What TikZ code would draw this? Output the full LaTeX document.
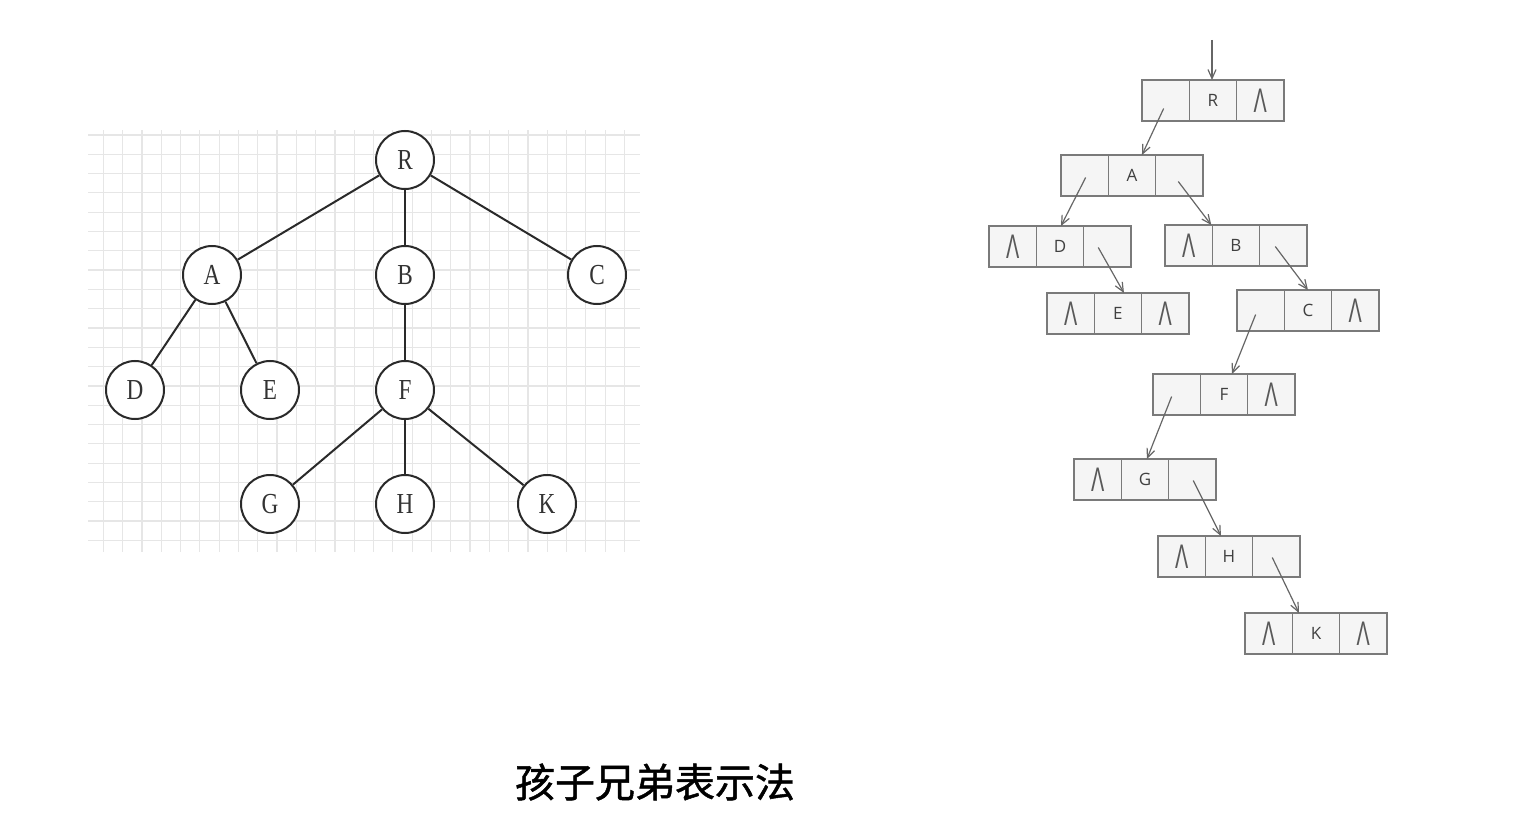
\documentclass[tikz,border=0pt]{standalone}
\usepackage{fontspec}
\usetikzlibrary{arrows.meta,calc}
\newfontfamily\cjk{Noto Sans CJK SC}[FakeBold=1.2]
\newfontfamily\boxfont{Open Sans}
\newfontfamily\treefont{Liberation Serif}
\newfontfamily\lamfont{Liberation Sans}
\definecolor{gridc}{HTML}{E6E6E6}
\definecolor{edgec}{HTML}{2A2A2A}
\definecolor{cellborder}{HTML}{7A7A7A}
\definecolor{cellfill}{HTML}{F5F5F5}
\definecolor{ptrc}{HTML}{666666}
\tikzset{
  tnode/.style={circle,draw=edgec,line width=2pt,minimum size=58pt,inner sep=0pt,fill=white,
    font=\treefont\fontsize{29}{29}\selectfont,text=black!80},
  tedge/.style={draw=edgec,line width=2pt},
  cell/.style={rectangle,draw=cellborder,line width=1.5pt,fill=cellfill,minimum width=47.3pt,
    minimum height=41pt,inner sep=0pt,outer sep=0pt,anchor=north west,font=\boxfont\fontsize{17}{17}\selectfont,text=black!75},
  ptr/.style={draw=ptrc,line width=1.2pt,-{Straight Barb[length=9pt,width=8pt,line width=1.2pt]}},
}
\newcommand{\lam}{\textcolor{black!65}{\scalebox{0.9}[1.55]{\lamfont\fontsize{22}{22}\selectfont Λ}}}
\newcommand{\tl}[1]{\scalebox{0.8}[1]{#1}}
\newcommand{\listbox}[6]{%
  \node[cell] (#1-l) at (#2,#3) {#4};
  \node[cell] (#1-d) at (#1-l.north east) {#5};
  \node[cell] (#1-r) at (#1-d.north east) {#6};
}
\begin{document}
\begin{tikzpicture}[x=1pt,y=-1pt]
\useasboundingbox (0,0) rectangle (1536,834);
% grid
\foreach \k in {0,...,27} \draw[gridc,line width=1.2pt] ({103.3+\k*19.3},130) -- ({103.3+\k*19.3},552);
\foreach \k in {0,...,21} \draw[gridc,line width=1.2pt] (88,{135+\k*19.3}) -- (640,{135+\k*19.3});
% tree
\node[tnode] (R) at (405,160) {\tl{R}};
\node[tnode] (A) at (212,275) {\tl{A}};
\node[tnode] (B) at (405,275) {\tl{B}};
\node[tnode] (C) at (597,275) {\tl{C}};
\node[tnode] (D) at (135,390) {\tl{D}};
\node[tnode] (E) at (270,390) {\tl{E}};
\node[tnode] (F) at (405,390) {\tl{F}};
\node[tnode] (G) at (270,504) {\tl{G}};
\node[tnode] (H) at (405,504) {\tl{H}};
\node[tnode] (K) at (547,504) {\tl{K}};
\draw[tedge] (R) -- (A);
\draw[tedge] (R) -- (B);
\draw[tedge] (R) -- (C);
\draw[tedge] (A) -- (D);
\draw[tedge] (A) -- (E);
\draw[tedge] (B) -- (F);
\draw[tedge] (F) -- (G);
\draw[tedge] (F) -- (H);
\draw[tedge] (F) -- (K);
% child-sibling lists
\listbox{r}{1142}{80}{}{R}{\lam}
\listbox{a}{1061}{155}{}{A}{}
\listbox{d}{989}{226}{\lam}{D}{}
\listbox{b}{1165}{225}{\lam}{B}{}
\listbox{e}{1047}{293}{\lam}{E}{\lam}
\listbox{c}{1237}{290}{}{C}{\lam}
\listbox{f}{1153}{374}{}{F}{\lam}
\listbox{g}{1074}{459}{\lam}{G}{}
\listbox{h}{1158}{536}{\lam}{H}{}
\listbox{k}{1245}{613}{\lam}{K}{\lam}
\coordinate (top) at (1212,40);
\draw[ptr] (top) -- (top |- r-d.north);
\draw[ptr] ([shift={(-2,8)}]r-l.center) -- ([xshift=10]a-d.north);
\draw[ptr] ([shift={(1,2)}]a-l.center) -- ([xshift=1]d-d.north);
\draw[ptr] ([shift={(-1,6)}]a-r.center) -- ([xshift=-1]b-d.north west);
\draw[ptr] ([shift={(-9,1)}]d-r.center) -- ([xshift=6]e-d.north);
\draw[ptr] ([shift={(-8,1)}]b-r.center) -- (c-d.north);
\draw[ptr] ([shift={(-5,4)}]c-l.center) -- ([xshift=8]f-d.north);
\draw[ptr] ([shift={(-5,2)}]f-l.center) -- ([xshift=2]g-d.north);
\draw[ptr] ([shift={(1,1)}]g-r.center) -- ([xshift=-8]h-d.north);
\draw[ptr] ([shift={(-4,1)}]h-r.center) -- ([xshift=-17]k-d.north);
% title
\node[font=\cjk\fontsize{40}{40}\selectfont,text=black] (title) at (655,782) {孩子兄弟表示法};
\end{tikzpicture}
\end{document}
